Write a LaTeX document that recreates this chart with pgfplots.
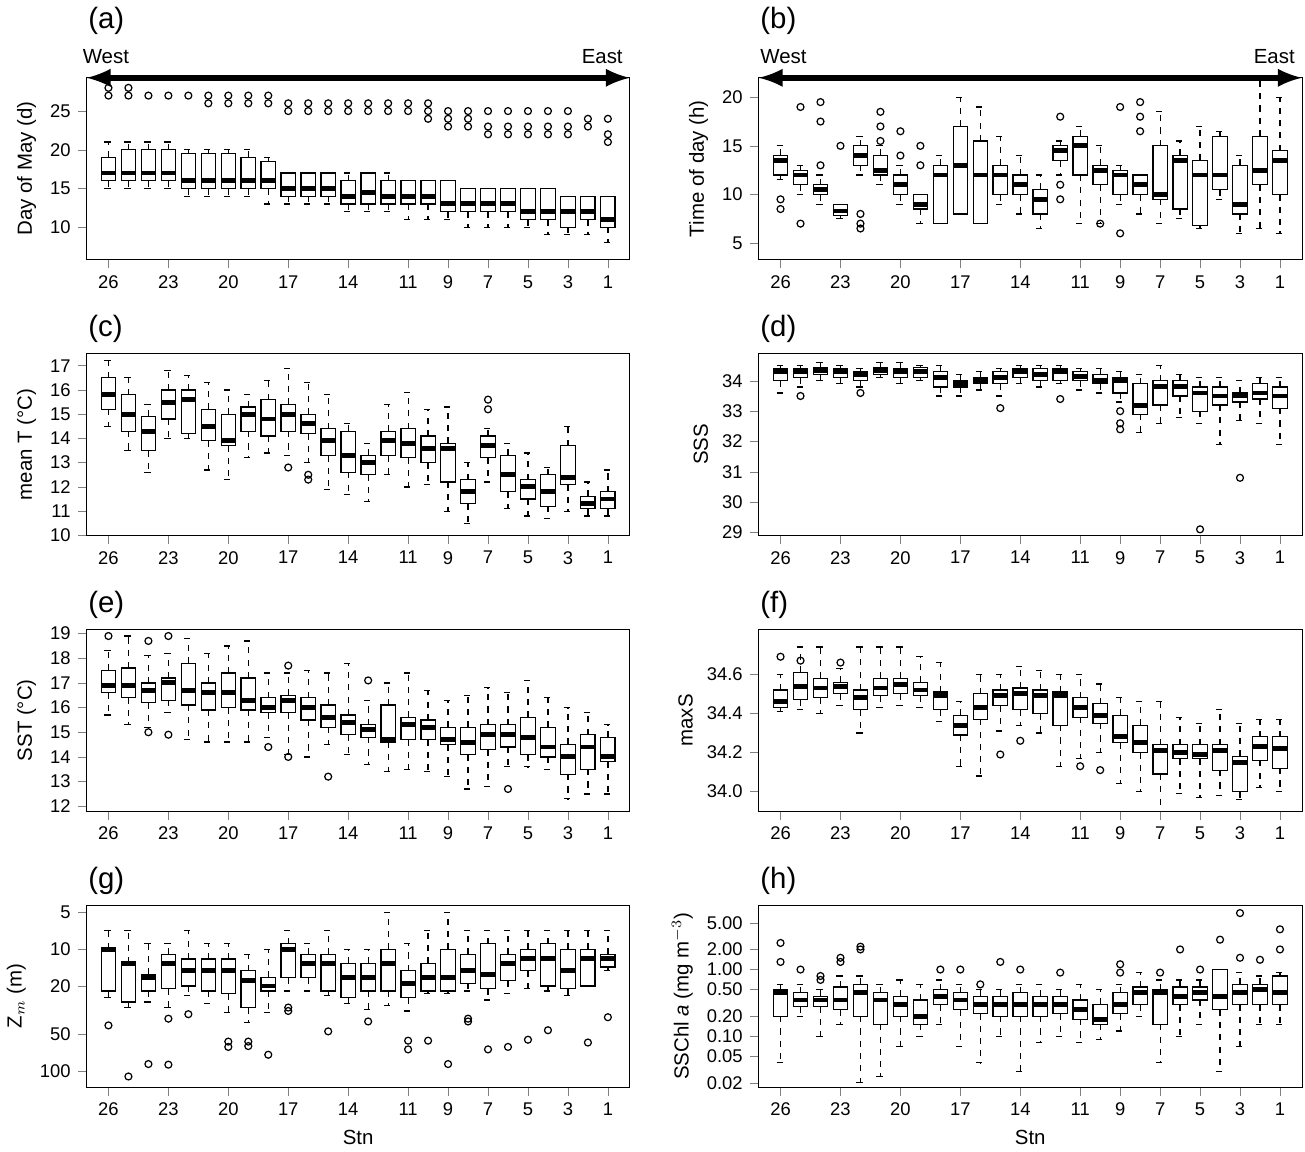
\documentclass[border=0pt]{standalone}
\usepackage{fontspec}
\setmainfont{Liberation Sans}
\usepackage{pgfplots}
\pgfplotsset{compat=1.18}
\usepgfplotslibrary{groupplots,statistics}
\newcommand\bx[6]{\addplot[black,line width=0.6pt,boxplot prepared={draw position=#1,lower whisker=#2,lower quartile=#3,median=#4,upper quartile=#5,upper whisker=#6}] coordinates {};}
% box on a log10 axis: values are given as plain data and drawn at their log10
\newcommand\bxl[6]{\pgfmathsetmacro\la{log10(#2)}\pgfmathsetmacro\lb{log10(#3)}\pgfmathsetmacro\lc{log10(#4)}\pgfmathsetmacro\ld{log10(#5)}\pgfmathsetmacro\le{log10(#6)}%
\edef\tmp{\noexpand\bx{#1}{\la}{\lb}{\lc}{\ld}{\le}}\tmp}
\pgfplotsset{outl/.style={only marks,mark=o,mark size=1.7pt,black,line width=0.6pt}}
\begin{document}
\begin{tikzpicture}
\begin{groupplot}[group style={group size=2 by 4,horizontal sep=63pt,vertical sep=46pt},
 width=266pt,height=89pt,scale only axis,clip=false,
 xmin=-1.1,xmax=26.1,xtick={0,3,6,9,12,15,17,19,21,23,25},
 xticklabels={26,23,20,17,14,11,9,7,5,3,1},
 tick align=outside,xtick pos=bottom,ytick pos=left,
 tick label style={font=\small},/pgf/number format/assume math mode=true,
 ylabel style={font=\normalsize},xlabel style={font=\normalsize},
 boxplot/draw direction=y,
 boxplot/box extend=0.72,boxplot/whisker extend=0.4,
 boxplot/every whisker/.style={dashed},
 boxplot/every median/.style={line width=2.4pt},
 boxplot/every box/.style={fill=white}]
%(a)
\nextgroupplot[ymin=5.8,ymax=29.3,ytick={10,15,20,25},ylabel={Day of May (d)}]
\bx{0}{15}{16}{17}{19}{21}\bx{1}{15}{16}{17}{20}{21}\bx{2}{15}{16}{17}{20}{21}\bx{3}{15}{16}{17}{20}{21}
\bx{4}{14}{15}{16}{19.5}{20}\bx{5}{14}{15}{16}{19.5}{20}\bx{6}{14}{15}{16}{19.5}{20}\bx{7}{14}{15}{16}{19}{20}
\bx{8}{13}{15}{16}{18.5}{19}\bx{9}{13}{14}{15}{17}{17}\bx{10}{13}{14}{15}{17}{17}\bx{11}{13}{14}{15}{17}{17}
\bx{12}{12}{13}{14}{16}{17}\bx{13}{12}{13}{14.5}{17}{17}\bx{14}{12}{13}{14}{16}{17}\bx{15}{11}{13}{14}{16}{16}
\bx{16}{11}{13}{14}{16}{16}\bx{17}{11}{12}{13}{16}{16}\bx{18}{10}{12}{13}{15}{15}\bx{19}{10}{12}{13}{15}{15}
\bx{20}{10}{12}{13}{15}{15}\bx{21}{10}{11}{12}{15}{15}\bx{22}{9}{11}{12}{15}{15}\bx{23}{9}{10}{12}{14}{14}
\bx{24}{9}{11}{12}{14}{14}\bx{25}{8}{10}{11}{14}{14}
\addplot[outl] coordinates {(0,27)(0,28)(1,27)(1,28)(2,27)(3,27)(4,27)(5,26)(5,27)(6,26)(6,27)(7,26)(7,27)(8,26)(8,27)
(9,25)(9,26)(10,25)(10,26)(11,25)(11,26)(12,25)(12,26)(13,25)(13,26)(14,25)(14,26)(15,25)(15,26)(16,24)(16,25)(16,26)
(17,23)(17,24)(17,25)(18,23)(18,24)(18,25)(19,22)(19,23)(19,25)(20,22)(20,23)(20,25)(21,22)(21,23)(21,25)(22,22)(22,23)(22,25)
(23,22)(23,23)(23,25)(24,23)(24,24)(25,21)(25,22)(25,24)};
\draw[<->,>=latex,line width=3pt] (rel axis cs:0,1) -- (rel axis cs:1,1);
\node[anchor=south west] at (rel axis cs:-0.02,1.04) {West};
\node[anchor=south east] at (rel axis cs:1.0,1.04) {East};
\node[anchor=south west,font=\Large] at (rel axis cs:-0.01,1.2) {(a)};
%(b)
\nextgroupplot[ymin=3.3,ymax=22,ytick={5,10,15,20},ylabel={Time of day (h)}]
\bx{0}{11.5}{12}{13.5}{14}{15}\bx{1}{10}{11}{12}{12.5}{13}\bx{2}{9}{10}{10.5}{11}{12}\bx{3}{7.5}{7.8}{8.3}{9}{9}
\bx{4}{12}{13}{14}{15}{16}\bx{5}{11}{12}{12.5}{14}{15}\bx{6}{9}{10}{11}{12}{13}\bx{7}{7}{8.5}{9}{10}{10}
\bx{8}{7}{7}{12}{13}{14}\bx{9}{8}{8}{13}{17}{20}\bx{10}{7}{7}{12}{15.5}{19}\bx{11}{9}{10}{12}{13}{16}
\bx{12}{8}{10}{11}{12}{14}\bx{13}{6.5}{8}{9.5}{10.5}{12}\bx{14}{12}{13.5}{14.5}{15}{15.5}\bx{15}{7}{12}{15}{16}{17}
\bx{16}{7}{11}{12.5}{13}{15}\bx{17}{9}{10}{12}{12.5}{13}\bx{18}{8}{10}{11}{12}{12}\bx{19}{7}{9.5}{10}{15}{18.5}
\bx{20}{7.5}{8.5}{13.5}{14}{15.5}\bx{21}{6.5}{6.8}{12}{13.5}{17}\bx{22}{9.5}{10.5}{12}{16}{16.5}\bx{23}{6}{8}{9}{13}{14}
\bx{24}{6.5}{11}{12.5}{16}{22}\bx{25}{6}{10}{13.5}{14.5}{20}
\addplot[outl] coordinates {(0,8.5)(0,9.5)(1,7)(1,19)(2,13)(2,17.5)(2,19.5)(3,15)(4,6.5)(4,7)(4,8)(5,15.5)(5,17)(5,18.5)
(6,14)(6,16.5)(7,13)(7,15)(14,9.5)(14,11)(14,18)(16,7)(17,6)(17,19)(18,16.5)(18,18)(18,19.5)};
\draw[<->,>=latex,line width=3pt] (rel axis cs:0,1) -- (rel axis cs:1,1);
\node[anchor=south west] at (rel axis cs:-0.01,1.04) {West};
\node[anchor=south east] at (rel axis cs:1.0,1.04) {East};
\node[anchor=south west,font=\Large] at (rel axis cs:-0.01,1.2) {(b)};
%(c)
\nextgroupplot[ymin=10,ymax=17.5,ytick={10,...,17},ylabel={mean T (°C)}]
\bx{0}{14.5}{15.2}{15.8}{16.5}{17.2}\bx{1}{13.5}{14.3}{15}{15.8}{16.5}\bx{2}{12.6}{13.5}{14.3}{14.9}{15.4}\bx{3}{14}{14.8}{15.5}{16}{16.8}
\bx{4}{14}{14.2}{15.6}{16}{16.6}\bx{5}{12.7}{13.9}{14.5}{15.2}{16.3}\bx{6}{12.3}{13.7}{13.9}{15}{16}\bx{7}{13.2}{14.3}{15}{15.3}{15.8}
\bx{8}{13.4}{14.1}{14.8}{15.6}{16.4}\bx{9}{13.3}{14.3}{15}{15.4}{16.9}\bx{10}{13}{14.2}{14.6}{15}{16.3}\bx{11}{11.9}{13.3}{13.9}{14.4}{15.8}
\bx{12}{11.7}{12.6}{13.3}{14.3}{14.6}\bx{13}{11.4}{12.5}{13}{13.3}{13.8}\bx{14}{12.5}{13.3}{13.9}{14.3}{15.4}\bx{15}{12}{13.2}{13.8}{14.4}{15.9}
\bx{16}{12.1}{13}{13.6}{14.1}{15.2}\bx{17}{11}{12.2}{13.6}{13.8}{15.3}\bx{18}{10.5}{11.3}{11.8}{12.3}{13}\bx{19}{12.2}{13.2}{13.7}{14.1}{14.4}
\bx{20}{11.1}{11.8}{12.5}{13.3}{13.8}\bx{21}{10.8}{11.5}{12}{12.3}{13.4}\bx{22}{10.7}{11.2}{11.8}{12.5}{12.8}\bx{23}{11}{12.1}{12.4}{13.7}{14.5}
\bx{24}{10.8}{11.1}{11.3}{11.6}{12.2}\bx{25}{10.8}{11.1}{11.5}{11.8}{12.7}
\addplot[outl] coordinates {(9,12.8)(10,12.3)(10,12.5)(19,15.6)(19,15.2)};
\node[anchor=south west,font=\Large] at (rel axis cs:-0.01,1.02) {(c)};
%(d)
\nextgroupplot[ymin=28.9,ymax=34.9,ytick={29,...,34},ylabel={SSS}]
\bx{0}{33.6}{34.0}{34.3}{34.4}{34.5}\bx{1}{33.8}{34.1}{34.3}{34.4}{34.5}\bx{2}{34.0}{34.2}{34.35}{34.45}{34.6}\bx{3}{33.9}{34.1}{34.3}{34.4}{34.5}
\bx{4}{33.8}{34.0}{34.2}{34.3}{34.4}\bx{5}{34.1}{34.2}{34.35}{34.45}{34.6}\bx{6}{33.9}{34.1}{34.3}{34.4}{34.6}\bx{7}{34.0}{34.1}{34.3}{34.45}{34.5}
\bx{8}{33.5}{33.8}{34.1}{34.3}{34.5}\bx{9}{33.5}{33.8}{33.9}{34.0}{34.2}\bx{10}{33.7}{33.9}{34.0}{34.1}{34.3}\bx{11}{33.5}{33.9}{34.1}{34.3}{34.4}
\bx{12}{33.9}{34.1}{34.3}{34.4}{34.5}\bx{13}{33.8}{34.0}{34.2}{34.4}{34.5}\bx{14}{33.9}{34.0}{34.3}{34.4}{34.5}\bx{15}{33.7}{34.0}{34.15}{34.3}{34.4}
\bx{16}{33.6}{33.9}{34.0}{34.2}{34.4}\bx{17}{33.3}{33.6}{34.0}{34.1}{34.3}\bx{18}{32.3}{32.9}{33.2}{33.9}{34.2}\bx{19}{32.6}{33.2}{33.8}{34.0}{34.5}
\bx{20}{32.8}{33.5}{33.8}{34.0}{34.2}\bx{21}{32.6}{33.0}{33.6}{33.8}{34.1}\bx{22}{31.9}{33.2}{33.5}{33.8}{34.1}\bx{23}{32.7}{33.3}{33.5}{33.6}{34.0}
\bx{24}{32.6}{33.4}{33.6}{33.9}{34.1}\bx{25}{31.9}{33.1}{33.5}{33.8}{34.1}
\addplot[outl] coordinates {(1,33.5)(4,33.6)(11,33.1)(14,33.4)(17,32.4)(17,32.6)(17,33.0)(21,29.1)(23,30.8)};
\node[anchor=south west,font=\Large] at (rel axis cs:-0.01,1.02) {(d)};
%(e)
\nextgroupplot[ymin=11.8,ymax=19.17,ytick={12,...,19},ylabel={SST (°C)}]
\bx{0}{15.7}{16.6}{16.9}{17.5}{18.3}\bx{1}{15.3}{16.4}{16.9}{17.6}{18.9}\bx{2}{15.2}{16.2}{16.7}{17}{18.1}\bx{3}{15.8}{16.3}{17}{17.2}{18.2}
\bx{4}{14.7}{16.1}{16.7}{17.8}{18.8}\bx{5}{14.6}{15.9}{16.6}{17}{18.2}\bx{6}{14.6}{16}{16.6}{17.4}{18.5}\bx{7}{14.6}{15.9}{16.3}{17.2}{18.7}
\bx{8}{14.8}{15.8}{16}{16.4}{17.4}\bx{9}{14.1}{15.8}{16.3}{16.5}{17.4}\bx{10}{14}{15.5}{16}{16.4}{17.5}\bx{11}{14.5}{15.2}{15.6}{16.1}{17.4}
\bx{12}{14.1}{14.9}{15.4}{15.7}{17.8}\bx{13}{13.7}{14.8}{15.1}{15.3}{16.3}\bx{14}{13.4}{14.6}{14.7}{16.1}{17}\bx{15}{13.5}{14.7}{15.3}{15.6}{17.4}
\bx{16}{13.4}{14.7}{15.2}{15.5}{16.7}\bx{17}{13.2}{14.5}{14.7}{15.2}{16.3}\bx{18}{12.7}{14.1}{14.6}{15.2}{16.5}\bx{19}{12.8}{14.3}{14.9}{15.3}{16.8}
\bx{20}{13.6}{14.4}{14.9}{15.3}{16.6}\bx{21}{13.6}{14.1}{14.8}{15.6}{17.1}\bx{22}{13.5}{14}{14.4}{15.2}{16.4}\bx{23}{12.3}{13.3}{14}{14.5}{16}
\bx{24}{12.5}{13.5}{14.4}{14.9}{15.8}\bx{25}{12.5}{13.8}{14}{14.8}{15.3}
\addplot[outl] coordinates {(0,18.9)(2,18.7)(2,15)(3,18.9)(3,14.9)(8,14.4)(9,17.7)(9,14)(11,13.2)(13,17.1)(20,12.7)};
\node[anchor=south west,font=\Large] at (rel axis cs:-0.01,1.02) {(e)};
%(f)
\nextgroupplot[ymin=33.9,ymax=34.83,ytick={34.0,34.2,34.4,34.6},yticklabel style={/pgf/number format/.cd,fixed,fixed zerofill,precision=1},ylabel={maxS}]
\bx{0}{34.41}{34.43}{34.46}{34.52}{34.60}\bx{1}{34.42}{34.47}{34.54}{34.61}{34.74}\bx{2}{34.40}{34.48}{34.53}{34.58}{34.74}\bx{3}{34.44}{34.50}{34.54}{34.56}{34.63}
\bx{4}{34.30}{34.42}{34.48}{34.52}{34.74}\bx{5}{34.43}{34.49}{34.53}{34.58}{34.74}\bx{6}{34.44}{34.50}{34.55}{34.58}{34.74}\bx{7}{34.43}{34.49}{34.52}{34.56}{34.69}
\bx{8}{34.36}{34.42}{34.49}{34.51}{34.66}\bx{9}{34.13}{34.29}{34.34}{34.39}{34.46}\bx{10}{34.08}{34.37}{34.43}{34.50}{34.60}\bx{11}{34.31}{34.44}{34.49}{34.52}{34.60}
\bx{12}{34.34}{34.42}{34.50}{34.53}{34.64}\bx{13}{34.30}{34.40}{34.49}{34.52}{34.62}\bx{14}{34.13}{34.34}{34.49}{34.51}{34.60}\bx{15}{34.17}{34.38}{34.43}{34.48}{34.60}
\bx{16}{34.20}{34.35}{34.39}{34.45}{34.55}\bx{17}{34.04}{34.25}{34.28}{34.39}{34.48}\bx{18}{34.00}{34.20}{34.25}{34.34}{34.46}\bx{19}{33.90}{34.09}{34.21}{34.24}{34.46}
\bx{20}{33.99}{34.17}{34.20}{34.24}{34.38}\bx{21}{33.97}{34.17}{34.19}{34.24}{34.35}\bx{22}{33.98}{34.11}{34.21}{34.24}{34.42}\bx{23}{33.96}{34.00}{34.15}{34.18}{34.35}
\bx{24}{34.02}{34.16}{34.23}{34.28}{34.37}\bx{25}{34.00}{34.12}{34.22}{34.28}{34.37}
\addplot[outl] coordinates {(0,34.69)(1,34.67)(3,34.66)(11,34.19)(12,34.26)(15,34.13)(16,34.11)};
\node[anchor=south west,font=\Large] at (rel axis cs:-0.01,1.02) {(f)};
%(g) log10 axis, reversed
\nextgroupplot[y dir=reverse,ymin=0.639,ymax=2.127,ytick={0.69897,1,1.30103,1.69897,2},yticklabels={5,10,20,50,100},ylabel={Z$_m$ (m)},xlabel={Stn}]
\bxl{0}{7}{10}{10}{22}{25}\bxl{1}{7}{13}{13}{27}{30}\bxl{2}{9}{16}{17}{22}{27}\bxl{3}{9}{11}{13}{21}{30}
\bxl{4}{7}{12}{15}{20}{24}\bxl{5}{9}{12}{15}{22}{28}\bxl{6}{9}{12}{15}{23}{33}\bxl{7}{11}{15}{18}{30}{40}
\bxl{8}{10}{17}{20}{22}{33}\bxl{9}{7}{9}{10}{17}{22}\bxl{10}{9}{11}{13}{17}{22}\bxl{11}{7}{11}{13}{22}{24}
\bxl{12}{10}{13}{17}{25}{28}\bxl{13}{10}{13}{17}{22}{31}\bxl{14}{5}{10}{13}{22}{29}\bxl{15}{9}{15}{19}{25}{32}
\bxl{16}{7}{13}{17}{22}{23}\bxl{17}{5}{10}{17}{22}{23}\bxl{18}{7}{11}{15}{19}{22}\bxl{19}{7}{9}{16}{21}{26}
\bxl{20}{7}{11}{13}{18}{23}\bxl{21}{7}{10}{12}{15}{21}\bxl{22}{7}{9}{12}{20}{22}\bxl{23}{7}{10}{15}{21}{24}
\bxl{24}{7}{10}{12}{20}{20}\bxl{25}{7}{11}{12}{14}{15}
\addplot[outl] table[row sep=\\,x=x,y expr={log10(\thisrow{y})}] {x y\\ 0 42\\ 1 110\\ 2 87\\ 3 37\\ 3 88\\ 4 34\\ 6 57\\ 6 63\\ 7 57\\ 7 62\\ 8 73\\ 9 30\\ 9 32\\ 11 47\\ 13 39\\
15 56\\ 15 66\\ 16 56\\ 17 87\\ 18 37\\ 18 39\\ 19 66\\ 20 63\\ 21 55\\ 22 46\\ 24 58\\ 25 36\\};
\node[anchor=south west,font=\Large] at (rel axis cs:-0.01,1.02) {(g)};
%(h) log10 axis
\nextgroupplot[ymin=-1.757,ymax=0.964,ytick={-1.69897,-1.30103,-1,-0.69897,-0.30103,0,0.30103,0.69897},yticklabels={0.02,0.05,0.10,0.20,0.50,1.00,2.00,5.00},ylabel={SSChl \textit{a} (mg m$^{-3}$)},xlabel={Stn}]
\bxl{0}{0.04}{0.2}{0.45}{0.5}{0.6}\bxl{1}{0.2}{0.28}{0.35}{0.45}{0.6}\bxl{2}{0.1}{0.28}{0.35}{0.4}{0.5}\bxl{3}{0.15}{0.25}{0.35}{0.55}{0.8}
\bxl{4}{0.02}{0.2}{0.45}{0.6}{0.8}\bxl{5}{0.025}{0.15}{0.35}{0.45}{0.6}\bxl{6}{0.07}{0.2}{0.3}{0.4}{0.7}\bxl{7}{0.1}{0.15}{0.2}{0.35}{0.6}
\bxl{8}{0.15}{0.3}{0.4}{0.5}{0.7}\bxl{9}{0.07}{0.25}{0.35}{0.45}{0.6}\bxl{10}{0.04}{0.22}{0.3}{0.4}{0.5}\bxl{11}{0.1}{0.2}{0.3}{0.4}{0.5}
\bxl{12}{0.03}{0.2}{0.3}{0.45}{0.6}\bxl{13}{0.08}{0.2}{0.3}{0.4}{0.6}\bxl{14}{0.1}{0.22}{0.3}{0.4}{0.5}\bxl{15}{0.08}{0.18}{0.25}{0.35}{0.6}
\bxl{16}{0.09}{0.15}{0.18}{0.3}{0.5}\bxl{17}{0.12}{0.22}{0.3}{0.45}{0.6}\bxl{18}{0.2}{0.3}{0.45}{0.55}{0.9}\bxl{19}{0.04}{0.15}{0.45}{0.5}{0.7}
\bxl{20}{0.1}{0.3}{0.4}{0.55}{0.7}\bxl{21}{0.15}{0.35}{0.45}{0.55}{0.7}\bxl{22}{0.03}{0.25}{0.4}{1.0}{1.0}\bxl{23}{0.07}{0.3}{0.45}{0.6}{0.9}
\bxl{24}{0.15}{0.3}{0.5}{0.6}{0.8}\bxl{25}{0.15}{0.3}{0.45}{0.8}{0.9}
\addplot[outl] table[row sep=\\,x=x,y expr={log10(\thisrow{y})}] {x y\\ 0 1.3\\ 0 2.5\\ 1 1.0\\ 2 0.7\\ 2 0.8\\ 3 1.3\\ 3 1.5\\ 4 2.0\\ 4 2.2\\ 8 1.0\\ 9 1.0\\ 10 0.6\\ 11 1.3\\ 12 1.0\\ 14 0.9\\
17 0.9\\ 17 1.2\\ 19 0.9\\ 20 2.0\\ 21 1.0\\ 22 2.8\\ 23 1.5\\ 23 7.0\\ 24 1.4\\ 25 2.0\\ 25 4.0\\};
\node[anchor=south west,font=\Large] at (rel axis cs:-0.01,1.02) {(h)};
\end{groupplot}
\end{tikzpicture}
\end{document}
